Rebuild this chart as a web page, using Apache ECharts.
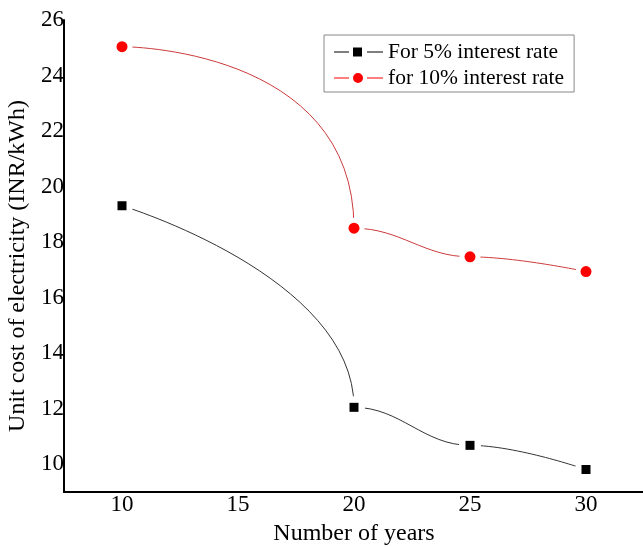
<!DOCTYPE html>
<html>
<head>
<meta charset="utf-8">
<script src="https://cdn.jsdelivr.net/npm/echarts@6/dist/echarts.min.js"></script>
<style>html,body{margin:0;padding:0;background:#fff;}#c{width:643px;height:547px;}</style>
</head>
<body>
<div id="c"></div>
<script>
const years = [10, 20, 25, 30];
const rate5 = [19.31, 12.05, 10.68, 9.81];
const rate10 = [25.04, 18.5, 17.47, 16.94];
const xTickLabels = [10, 15, 20, 25, 30];
const yTickLabels = [10, 12, 14, 16, 18, 20, 22, 24, 26];
const seriesNames = ['For 5% interest rate', 'for 10% interest rate'];

const pairs = (xs, ys) => xs.map((x, i) => [x, ys[i]]);
const FONT = 'Liberation Serif';
const C5 = '#333333', C10 = '#cc3a3a', CLEAR = 'rgba(255,255,255,0)';
const split = years[1];
const leftPart = c => [{gte: 0, lte: split, color: c}, {gt: split, lte: 100, color: CLEAR}];
const rightPart = c => [{gte: 0, lt: split, color: CLEAR}, {gte: split, lte: 100, color: c}];

const chart = echarts.init(document.getElementById('c'), null, {renderer: 'canvas'});
const option = {
  backgroundColor: '#fff',
  animation: false,
  grid: {left: 64, top: 20, width: 580, height: 472, containLabel: false, outerBoundsMode: 'none'},
  visualMap: [
    {type: 'piecewise', show: false, seriesIndex: 0, dimension: 0, pieces: leftPart(C5)},
    {type: 'piecewise', show: false, seriesIndex: 1, dimension: 0, pieces: leftPart(C10)},
    {type: 'piecewise', show: false, seriesIndex: 2, dimension: 0, pieces: rightPart(C5)},
    {type: 'piecewise', show: false, seriesIndex: 3, dimension: 0, pieces: rightPart(C10)}
  ],
  legend: {
    orient: 'vertical',
    left: 324, top: 35,
    padding: [6, 10, 3, 10],
    itemGap: 4,
    itemWidth: 49, itemHeight: 10,
    borderColor: '#888', borderWidth: 1,
    textStyle: {fontFamily: FONT, fontSize: 21.5, color: '#000'},
    data: [
      {name: seriesNames[0], icon: 'path://M0,4.5L15,4.5L15,5.5L0,5.5Z M19,0.5L28,0.5L28,9.5L19,9.5Z M33,4.5L49,4.5L49,5.5L33,5.5Z'},
      {name: seriesNames[1], icon: 'path://M0,4.5L15,4.5L15,5.5L0,5.5Z M19,5A5,5 0 1 1 29,5A5,5 0 1 1 19,5Z M33,4.5L49,4.5L49,5.5L33,5.5Z'}
    ]
  },
  xAxis: {
    type: 'value', min: 7.5, max: 32.5, interval: 2.5,
    name: 'Number of years', nameLocation: 'middle', nameGap: 30,
    nameTextStyle: {fontFamily: FONT, fontSize: 24, color: '#000'},
    axisLine: {show: true, lineStyle: {color: '#000', width: 2}},
    axisTick: {show: false},
    splitLine: {show: false},
    axisLabel: {
      fontFamily: FONT, fontSize: 23, color: '#000', margin: 1,
      formatter: v => xTickLabels.includes(v) ? String(v) : ''
    }
  },
  yAxis: {
    type: 'value', min: 9, max: 26, interval: 1,
    name: 'Unit cost of electricity (INR/kWh)', nameLocation: 'middle', nameGap: 29,
    nameTextStyle: {fontFamily: FONT, fontSize: 24, color: '#000', padding: [0, 20, 0, 0]},
    axisLine: {show: true, lineStyle: {color: '#000', width: 2}},
    axisTick: {show: false},
    splitLine: {show: false},
    axisLabel: {
      fontFamily: FONT, fontSize: 23, color: '#000', margin: 0,
      formatter: v => yTickLabels.includes(v) ? String(v) : ''
    }
  },
  series: [
    {name: 'curve5a', type: 'line', smooth: 0.65, smoothMonotone: 'y', symbol: 'none', z: 2, silent: true,
     data: pairs(years, rate5), lineStyle: {width: 1}},
    {name: 'curve10a', type: 'line', smooth: 1.0, smoothMonotone: 'y', symbol: 'none', z: 2, silent: true,
     data: pairs(years, rate10), lineStyle: {width: 1}},
    {name: 'curve5b', type: 'line', smooth: 0.4, smoothMonotone: 'x', symbol: 'none', z: 2, silent: true,
     data: pairs(years, rate5), lineStyle: {width: 1}},
    {name: 'curve10b', type: 'line', smooth: 0.4, smoothMonotone: 'x', symbol: 'none', z: 2, silent: true,
     data: pairs(years, rate10), lineStyle: {width: 1}},
    {name: 'halo5', type: 'scatter', symbol: 'circle', symbolSize: 22, z: 3, silent: true,
     data: pairs(years, rate5), itemStyle: {color: '#fff', opacity: 1}},
    {name: 'halo10', type: 'scatter', symbol: 'circle', symbolSize: 21, z: 3, silent: true,
     data: pairs(years, rate10), itemStyle: {color: '#fff', opacity: 1}},
    {name: seriesNames[0], type: 'scatter', symbol: 'rect', symbolSize: 9, z: 4, silent: true,
     data: pairs(years, rate5), itemStyle: {color: '#000', opacity: 1}},
    {name: seriesNames[1], type: 'scatter', symbol: 'circle', symbolSize: 11, z: 4, silent: true,
     data: pairs(years, rate10), itemStyle: {color: '#ff0000', opacity: 1}}
  ]
};
chart.setOption(option);
</script>
</body>
</html>
